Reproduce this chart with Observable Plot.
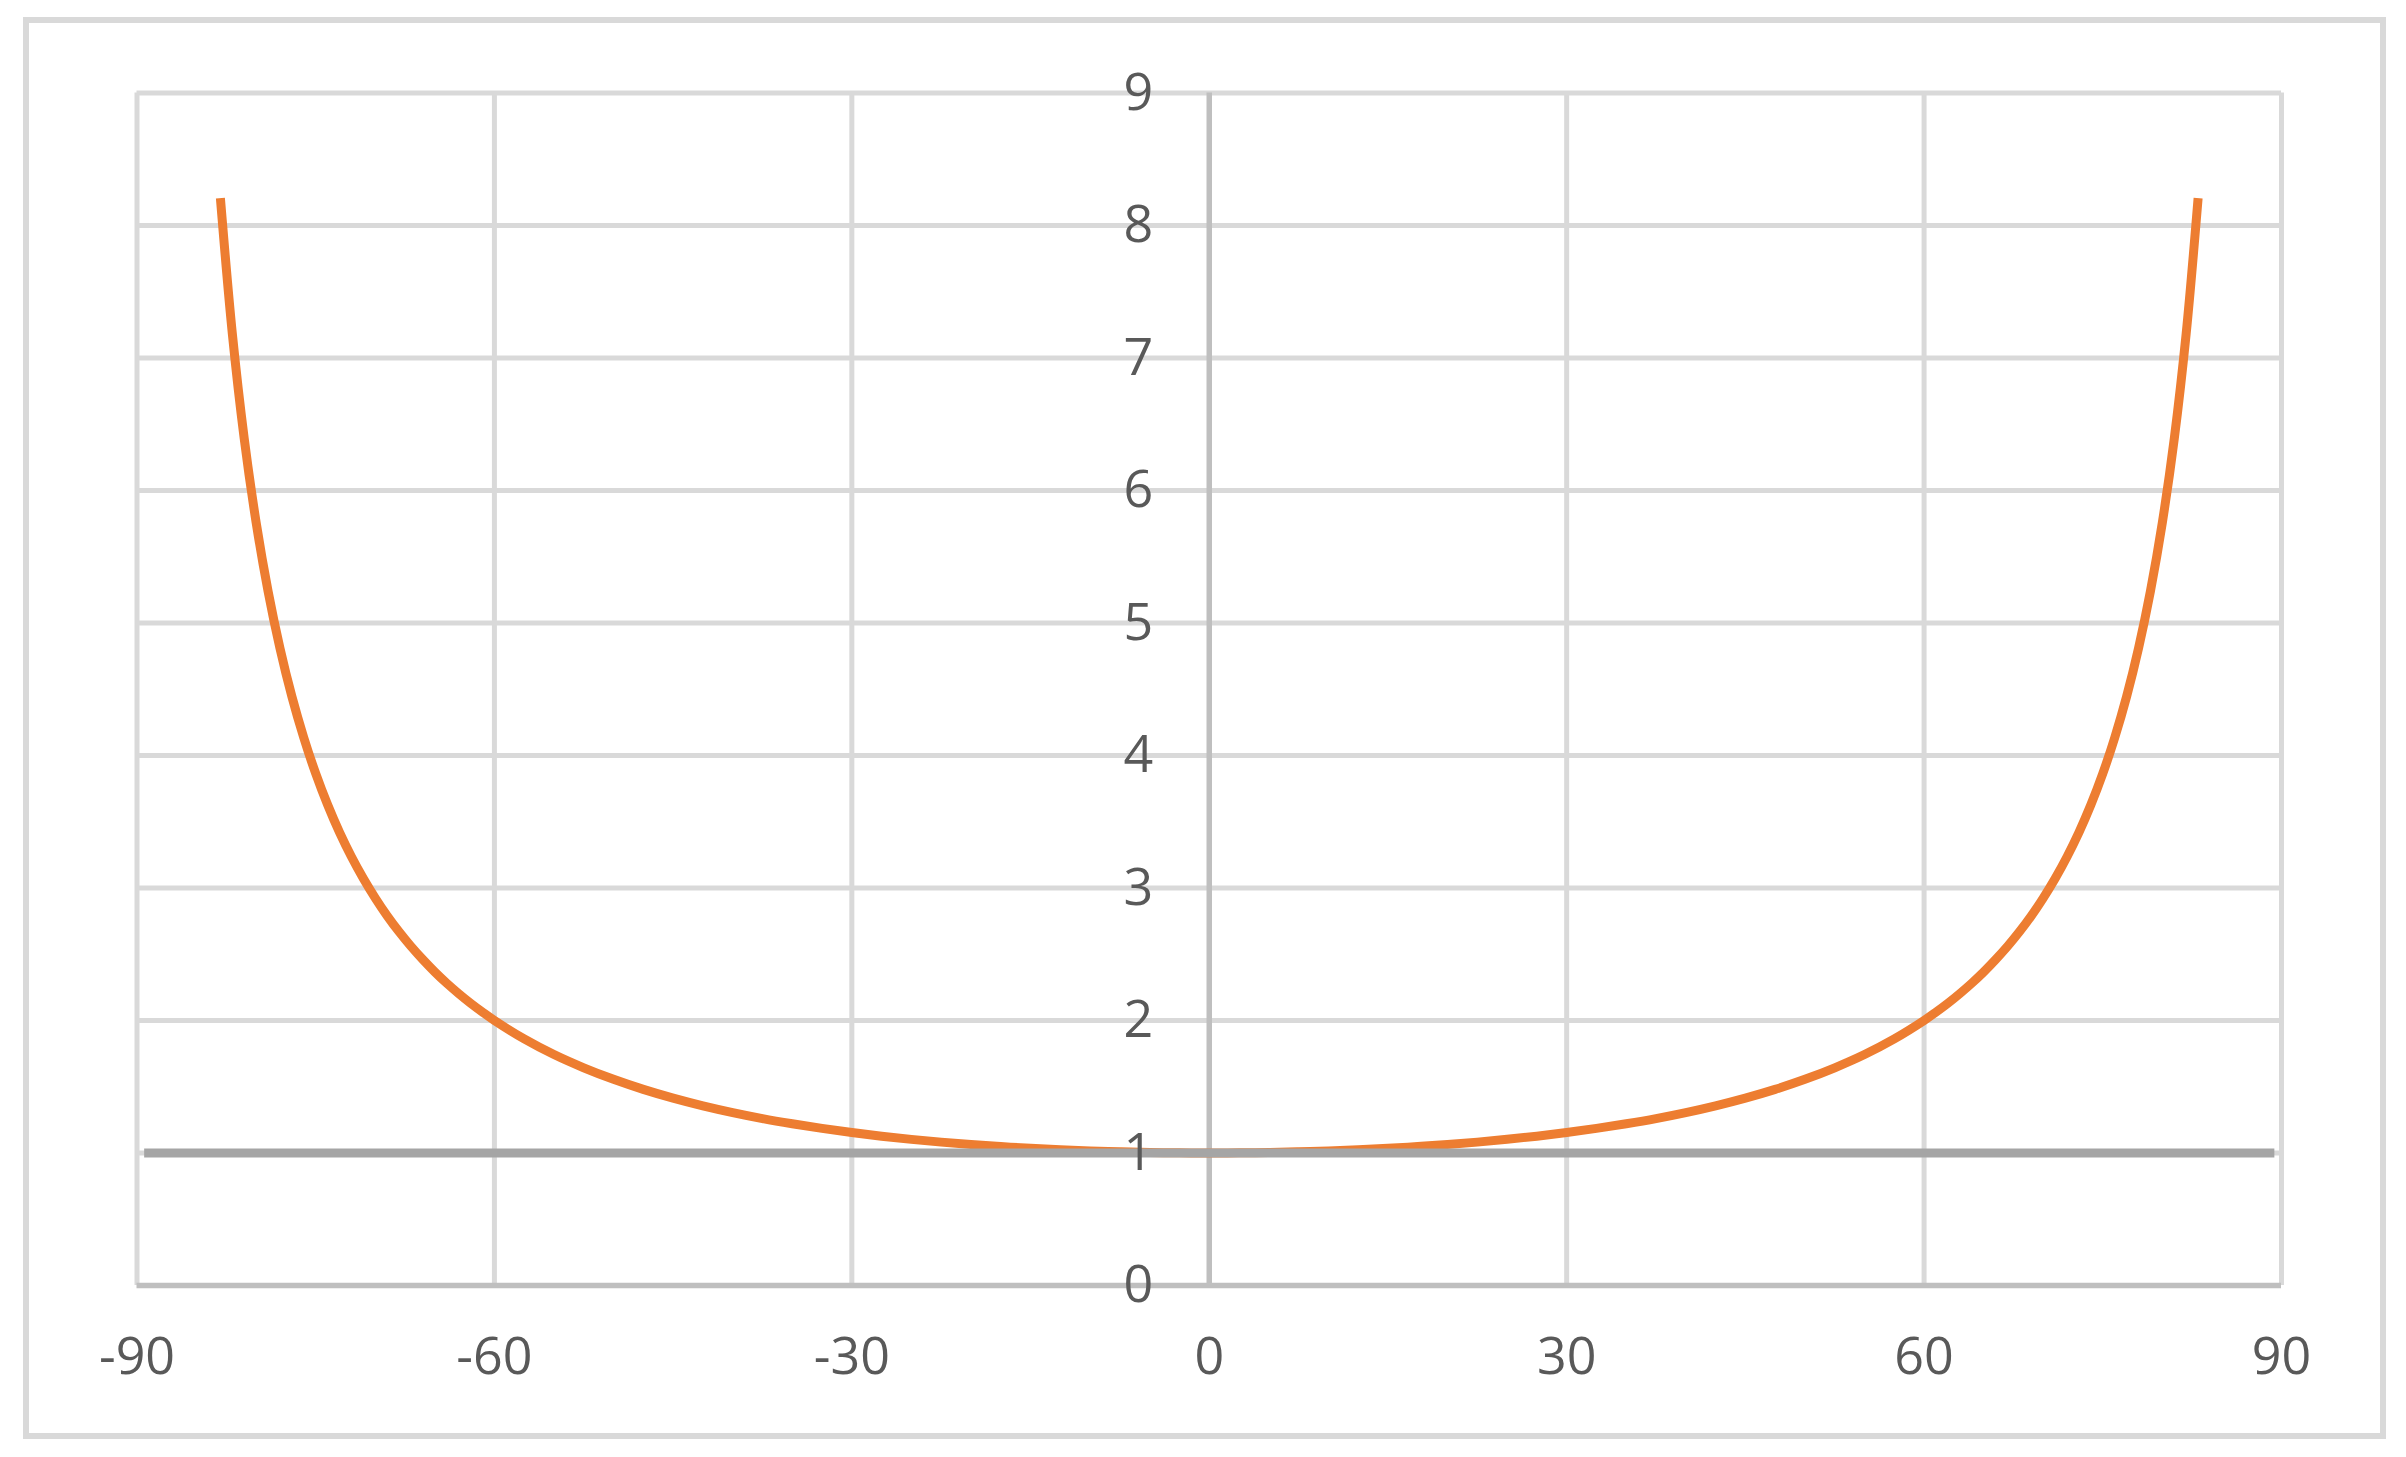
<!DOCTYPE html>
<html>
<head>
<meta charset="utf-8">
<script src="https://cdn.jsdelivr.net/npm/d3@7"></script>
<script src="https://cdn.jsdelivr.net/npm/@observablehq/plot@0.6"></script>
<style>
  html, body { margin: 0; padding: 0; background: #ffffff; }
  #wrap { position: relative; width: 2406px; height: 1457px; }
  #border { position: absolute; left: 23px; top: 17px; width: 2363px; height: 1422px;
            box-sizing: border-box; border: 6px solid #d9d9d9; pointer-events: none; }
</style>
</head>
<body>
<div id="wrap"><div id="border"></div></div>
<script>
// Angle (degrees) and curve value (right half; the curve is mirrored on the left)
const anglesRight = [0, 2.5, 5, 7.5, 10, 12.5, 15, 17.5, 20, 22.5, 25, 27.5, 30, 32.5, 35, 37.5, 40,
  42.5, 45, 47.5, 50, 52.5, 55, 57.5, 60, 61, 62, 63, 64, 65, 66, 67, 68, 69, 70, 71, 72, 73, 74,
  75, 76, 77, 78, 79, 80, 81, 82, 83];
const valuesRight = [1.000, 1.001, 1.004, 1.009, 1.015, 1.024, 1.035, 1.049, 1.064, 1.082, 1.103, 1.127, 1.155, 1.186, 1.221, 1.260, 1.305,
  1.356, 1.414, 1.480, 1.556, 1.643, 1.743, 1.861, 2.000, 2.063, 2.130, 2.203, 2.281, 2.366, 2.459, 2.559, 2.669, 2.790, 2.924, 3.072, 3.236, 3.420, 3.628,
  3.864, 4.134, 4.445, 4.810, 5.241, 5.759, 6.392, 7.185, 8.206];
// Baseline series (constant 1)
const baseX = [-89.4, 89.4];
const baseY = [1, 1];
// Tick labels
const xTicks = [-90, -60, -30, 0, 30, 60, 90];
const yTicks = [0, 1, 2, 3, 4, 5, 6, 7, 8, 9];

const curve = [
  ...anglesRight.slice(1).reverse().map((a, i, arr) => ({x: -a, y: valuesRight[anglesRight.length - 1 - i]})),
  ...anglesRight.map((a, i) => ({x: a, y: valuesRight[i]}))
];
const base = baseX.map((a, i) => ({x: a, y: baseY[i]}));

const chart = Plot.plot({
  width: 2406,
  height: 1457,
  marginLeft: 136.5,
  marginRight: 125,
  marginTop: 92.5,
  marginBottom: 172,
  x: {domain: [-90, 90], axis: null},
  y: {domain: [0, 9], axis: null},
  style: {fontFamily: "'Open Sans', 'Noto Sans', sans-serif", background: "transparent"},
  marks: [
    Plot.ruleX(xTicks.filter(d => d !== 0), {x: d => d, y1: 0, y2: 9, stroke: "#d9d9d9", strokeWidth: 5}),
    Plot.ruleY(yTicks.filter(d => d !== 0), {y: d => d, x1: -90, x2: 90, stroke: "#d9d9d9", strokeWidth: 5}),
    Plot.ruleY([0], {y: d => d, x1: -90, x2: 90, stroke: "#bfbfbf", strokeWidth: 5.5}),
    Plot.ruleX([0], {x: d => d, y1: 0, y2: 9, stroke: "#bfbfbf", strokeWidth: 5.5}),
    Plot.line(curve, {x: "x", y: "y", stroke: "#ED7D31", strokeWidth: 9, curve: "catmull-rom", strokeLinecap: "butt"}),
    Plot.line(base, {x: "x", y: "y", stroke: "#a5a5a5", strokeWidth: 9, strokeLinecap: "butt"}),
    Plot.text(yTicks, {x: 0, y: d => d, text: d => String(d), textAnchor: "end", dx: -56, fontSize: 52, fill: "#595959", lineAnchor: "middle"}),
    Plot.text(xTicks, {x: d => d, y: 0, text: d => String(d), textAnchor: "middle", dy: 72, fontSize: 52, fill: "#595959", lineAnchor: "middle"})
  ]
});
chart.style.position = "absolute";
chart.style.left = "0px";
chart.style.top = "0px";
document.getElementById("wrap").appendChild(chart);
</script>
</body>
</html>
